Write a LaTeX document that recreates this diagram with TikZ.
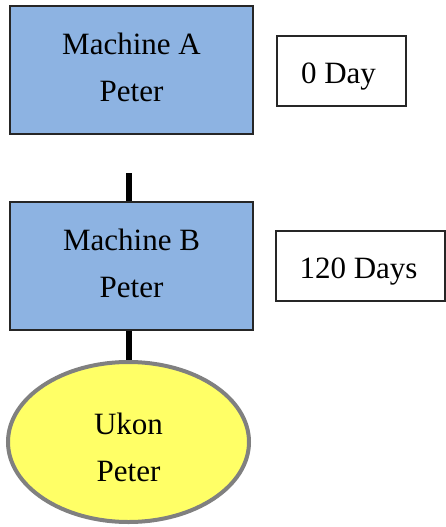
\documentclass[tikz,border=0pt]{standalone}
\usepackage{fontspec}
\setmainfont{Liberation Serif}
\usetikzlibrary{shapes.geometric}
\definecolor{boxblue}{HTML}{8DB3E2}
\definecolor{ukyellow}{HTML}{FFFF66}
\definecolor{ukgray}{HTML}{808080}
\begin{document}
\begin{tikzpicture}[x=1pt,y=-1pt,
  txt/.style={font=\fontsize{31}{47}\selectfont, align=center, inner sep=0pt},
  machbox/.style={draw=black!85, line width=1.2pt, fill=boxblue,
    minimum width=243pt, minimum height=128pt},
  daybox/.style={draw=black!85, line width=1.2pt, fill=white,
    minimum height=70pt},
  link/.style={line width=5.5pt, black}]
\useasboundingbox (0,0) rectangle (446,527);
\node[machbox] (A) at (131.5,70) {};
\node[txt] (At) at ([yshift=3pt]A.center) {Machine A\\Peter};
\node[machbox] (B) at (131.5,266) {};
\node[txt] (Bt) at ([yshift=3pt]B.center) {Machine B\\Peter};
\node[daybox, minimum width=129pt] (d0) at (341.5,71) {};
\node[txt] (d0t) at ([xshift=-3pt,yshift=-6pt]d0.center) {0 Day};
\node[daybox, minimum width=169pt] (d120) at (360.5,266) {};
\node[txt] (d120t) at ([xshift=-2pt,yshift=-6pt]d120.center) {120 Days};
\node[ellipse, draw=ukgray, line width=4pt, fill=ukyellow,
  minimum width=241pt, minimum height=160pt] (U) at (128.5,442) {};
\node[txt] (Ut) at ([yshift=-5pt]U.center) {Ukon\\Peter};
\coordinate (s1) at (129,173);
\draw[link] (s1) -- (s1 |- B.north);
\draw[link] (B.south -| s1) -- (s1 |- U.north);
\end{tikzpicture}
\end{document}
